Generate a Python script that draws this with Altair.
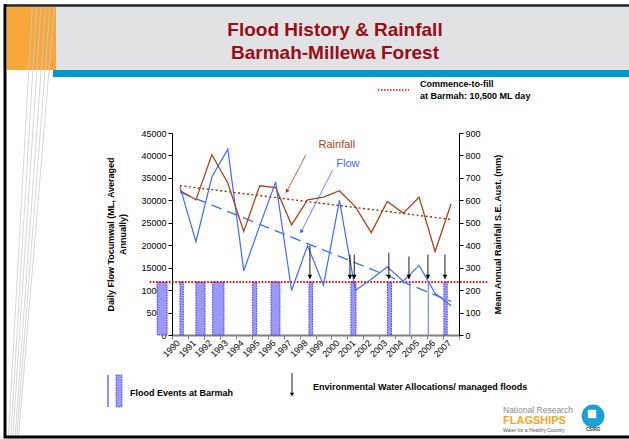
import altair as alt
import pandas as pd

# ---------------- data ----------------
years = list(range(1990, 2008))
flow = [33000, 20800, 35200, 41400, 14300, 24300, 34100, 9900, 19900, 11100,
        30000, 9900, 12400, 15200, 12000, 15500, 9300, 6500]
rain = [644, 602, 803, 677, 461, 665, 657, 491, 602, 614,
        643, 572, 456, 595, 543, 614, 372, 584]
trend_years = [1990, 2007]
flow_trend = [31800, 7500]
rain_trend = [665, 515]

flood_start = [1988.57, 1990.00, 1991.00, 1992.05, 1994.56, 1995.71,
               1998.09, 2000.72, 2003.02, 2004.42, 2005.57, 2006.55]
flood_end = [1989.19, 1990.21, 1991.57, 1992.76, 1994.81, 1996.27,
             1998.32, 2001.04, 2003.27, 2004.42, 2005.57, 2006.76]
flood_level = 11800
commence_span = [1988.1, 2009.3]

ewa_year = [1998.15, 2000.66, 2000.93, 2003.10, 2004.36, 2005.55, 2006.62]
ewa_top = [19900, 17900, 17900, 18300, 17500, 17900, 17900]
ewa_tip = 12500

x_ticks = [1989.5 + i for i in range(19)]
flow_ticks = list(range(0, 45001, 5000))
rain_ticks = list(range(0, 901, 100))

# annotation arrows (data coordinates)
rain_arrow = {"x0": 1997.90, "y0": 803, "x1": 1996.70, "y1": 640}
flow_arrow = {"x0": 1999.58, "y0": 36800, "x1": 1997.60, "y1": 23000}
rain_label = {"x": 1999.84, "y": 848}
flow_label = {"x": 2000.53, "y": 38150}

FONT = "Liberation Sans"
BLUE = "#3b6cff"
BROWN = "#a5461d"
BAR_FILL = "#9a9af6"
BAR_STROKE = "#3a3ae8"

df = pd.DataFrame({"year": years, "flow": flow, "rain": rain})
trend_df = pd.DataFrame({"year": trend_years, "flow": flow_trend, "rain": rain_trend})
flood_df = pd.DataFrame({"start": flood_start, "end": flood_end,
                         "level": [flood_level] * len(flood_start),
                         "base": [0] * len(flood_start)})
wide_df = flood_df[flood_df["end"] > flood_df["start"]]
thin_df = flood_df[flood_df["end"] <= flood_df["start"]]
comm_df = pd.DataFrame({"x0": [commence_span[0]], "x1": [commence_span[1]],
                        "level": [flood_level]})
ewa_df = pd.DataFrame({"year": ewa_year, "top": ewa_top,
                       "tip": [ewa_tip] * len(ewa_year)})
ewa_df["head"] = ewa_df["tip"] + 450
rain_arrow_df = pd.DataFrame([rain_arrow])
flow_arrow_df = pd.DataFrame([flow_arrow])
rain_label_df = pd.DataFrame([rain_label])
flow_label_df = pd.DataFrame([flow_label])
one = pd.DataFrame({"a": [0]})

# ---------------- scales & axes ----------------
xscale = alt.Scale(domain=[1989.5, 2007.5], nice=False, zero=False)
xaxis = alt.Axis(values=x_ticks, title=None, grid=False,
                 labelExpr="datum.value > 2007 ? '' : format(datum.value + 0.5, 'd')",
                 labelAngle=315, labelAlign="right", labelBaseline="middle",
                 labelOffset=6, labelPadding=2, labelFontSize=9, labelColor="black",
                 labelOverlap=False, labelFlush=False, labelBound=False,
                 tickSize=4, tickColor="#808080", domainColor="#808080", domainWidth=2)
fscale = alt.Scale(domain=[0, 45000], nice=False, zero=True)
faxis = alt.Axis(values=flow_ticks, orient="left", grid=False, format="d",
                 title=["Daily Flow Tocumwal (ML, Averaged", "Annually)"],
                 titleFontSize=9, titleFontWeight="bold", titleColor="black",
                 titleAngle=270, titleBaseline="middle", titleAlign="center",
                 titleX=-62, titleY=101, titleLineHeight=12,
                 labelFontSize=9, labelColor="black", labelPadding=2,
                 tickSize=4, tickColor="black", domainColor="black")
rscale = alt.Scale(domain=[0, 900], nice=False, zero=True)
raxis = alt.Axis(values=rain_ticks, orient="right", grid=False, format="d",
                 title="Mean Annual Rainfall S.E. Aust. (mm)",
                 titleFontSize=9, titleFontWeight="bold", titleColor="black",
                 titleAngle=270, titleBaseline="middle", titleAlign="center",
                 titleX=38, titleY=101,
                 labelFontSize=9, labelColor="black", labelPadding=2,
                 tickSize=4, tickColor="black", domainColor="black")


def X(f):
    return alt.X(f, type="quantitative", scale=xscale, axis=xaxis)


def YF(f):
    return alt.Y(f, type="quantitative", scale=fscale, axis=faxis)


def YR(f):
    return alt.Y(f, type="quantitative", scale=rscale, axis=raxis)


# ---------------- flow layer ----------------
bars = alt.Chart(wide_df).mark_rect(fill=BAR_FILL, stroke=BAR_STROKE, strokeWidth=1,
                                    strokeDash=[1.5, 1]).encode(
    x=X("start"), x2="end", y=YF("level"), y2="base")
thin = alt.Chart(thin_df).mark_rule(color="#5a6cf0", strokeWidth=1).encode(
    x=X("start"), y=YF("level"), y2="base")
comm = alt.Chart(comm_df).mark_rule(color="#ff0000", strokeWidth=2, strokeDash=[1.6, 1.6]).encode(
    x=X("x0"), x2="x1", y=YF("level"))
flow_line = alt.Chart(df).mark_line(color=BLUE, strokeWidth=1.2).encode(x=X("year"), y=YF("flow"))
flow_tr = alt.Chart(trend_df).mark_line(color=BLUE, strokeWidth=1.3, strokeDash=[11, 6]).encode(
    x=X("year"), y=YF("flow"))
ewa_rules = alt.Chart(ewa_df).mark_rule(color="black", strokeWidth=0.9).encode(
    x=X("year"), y=YF("top"), y2="tip")
ewa_heads = alt.Chart(ewa_df).mark_point(shape="triangle-down", filled=True, color="black",
                                         size=22, opacity=1).encode(x=X("year"), y=YF("head"))
fa_line = alt.Chart(flow_arrow_df).mark_rule(color=BLUE, strokeWidth=0.8).encode(
    x=X("x0"), x2="x1", y=YF("y0"), y2="y1")
fa_head = alt.Chart(flow_arrow_df).mark_point(shape="triangle-down", filled=True, color=BLUE,
                                              size=20, angle=27, opacity=1).encode(
    x=X("x1"), y=YF("y1"))
fl_text = alt.Chart(flow_label_df).mark_text(text="Flow", color=BLUE, fontSize=11, font=FONT).encode(
    x=X("x"), y=YF("y"))
flow_layer = alt.layer(bars, thin, comm, flow_tr, flow_line, ewa_rules, ewa_heads, fa_line, fa_head, fl_text)

# ---------------- rain layer ----------------
rain_line = alt.Chart(df).mark_line(color=BROWN, strokeWidth=1.3).encode(x=X("year"), y=YR("rain"))
rain_tr = alt.Chart(trend_df).mark_line(color="#9a3000", strokeWidth=1.4, strokeDash=[2, 2.5]).encode(
    x=X("year"), y=YR("rain"))
ra_line = alt.Chart(rain_arrow_df).mark_rule(color=BROWN, strokeWidth=0.8).encode(
    x=X("x0"), x2="x1", y=YR("y0"), y2="y1")
ra_head = alt.Chart(rain_arrow_df).mark_point(shape="triangle-down", filled=True, color=BROWN,
                                              size=20, angle=28, opacity=1).encode(
    x=X("x1"), y=YR("y1"))
rl_text = alt.Chart(rain_label_df).mark_text(text="Rainfall", color=BROWN, fontSize=11, font=FONT).encode(
    x=X("x"), y=YR("y"))
rain_layer = alt.layer(rain_tr, rain_line, ra_line, ra_head, rl_text)

# ---------------- decoration (pixel positions relative to plot origin 172,133) ----------------
OX, OY = 172, 133


def rect(x0, x1, y0, y1, color):
    return alt.Chart(one).mark_rect(color=color).encode(
        x=alt.value(x0 - OX), x2=alt.value(x1 - OX), y=alt.value(y0 - OY), y2=alt.value(y1 - OY))


def rule(x0, y0, x1, y1, color, w, dash=None):
    kw = dict(color=color, strokeWidth=w)
    if dash:
        kw["strokeDash"] = dash
    return alt.Chart(one).mark_rule(**kw).encode(
        x=alt.value(x0 - OX), x2=alt.value(x1 - OX), y=alt.value(y0 - OY), y2=alt.value(y1 - OY))


def text(s, x, y, size, color="black", weight="normal", align="left", baseline="middle"):
    return alt.Chart(one).mark_text(text=s, fontSize=size, color=color, fontWeight=weight,
                                    align=align, baseline=baseline, font=FONT).encode(
        x=alt.value(x - OX), y=alt.value(y - OY))


def point(x, y, size, color, shape="circle"):
    return alt.Chart(one).mark_point(shape=shape, filled=True, color=color, size=size, opacity=1).encode(
        x=alt.value(x - OX), y=alt.value(y - OY))


deco = [
    rect(55, 629, 7, 70, "#e1e2e4"),
    rect(7, 56, 7, 70, "#f8a73b"),
    rect(53, 629, 70, 77, "#0099cc"),
]
top_x = [32.3, 36.7, 41, 45.7, 50, 54.3]
bot_x = [8.3, 10.7, 12.7, 15, 16.7, 18.3]
for tx, bx in zip(top_x, bot_x):
    deco.append(rule(tx, 6, bx, 439, "#cccccc", 0.8))
deco += [
    rule(4, 5.5, 629, 5.5, "#222222", 2.5),
    rule(5, 4, 5, 438, "black", 3),
    rule(4, 437, 629, 437, "black", 3),
    text("Flood History & Rainfall", 335, 36, 19, "#9b0d16", "bold", "center", "alphabetic"),
    text("Barmah-Millewa Forest", 335, 58.5, 19, "#9b0d16", "bold", "center", "alphabetic"),
    rule(378, 90, 409, 90, "#ff0000", 1.5, [1.5, 1.5]),
    text("Commence-to-fill", 420, 84, 9, weight="bold"),
    text("at Barmah: 10,500 ML day", 420, 96, 9, weight="bold"),
    rule(108, 375, 108, 407, "#6f6ff2", 1.5),
    alt.Chart(one).mark_rect(fill=BAR_FILL, stroke=BAR_STROKE, strokeWidth=0.8, strokeDash=[1.5, 1]).encode(
        x=alt.value(116 - OX), x2=alt.value(122 - OX), y=alt.value(375 - OY), y2=alt.value(407 - OY)),
    text("Flood Events at Barmah", 130, 393, 9, weight="bold"),
    rule(292, 373, 292, 394, "black", 0.9),
    point(292, 394.5, 18, "black", "triangle-down"),
    text("Environmental Water Allocations/ managed floods", 313, 387, 9, weight="bold"),
    text("National Research", 503, 410, 8.5, "#8c8c8c"),
    text("FLAGSHIPS", 503, 421, 11, "#f5a623", "bold"),
    text("Water for a Healthy Country", 503, 429.5, 5, "#555555"),
    point(593, 416, 520, "#1a9fd6"),
    point(592, 414, 70, "white", "square"),
    text("CSIRO", 593, 430, 4.5, "#333333", "bold", "center"),
]

chart = alt.layer(flow_layer, rain_layer, *deco).resolve_scale(y="independent").properties(
    width=287, height=202,
    padding={"left": 172, "top": 133, "right": 170, "bottom": 104},
    autosize=alt.AutoSizeParams(type="none"),
    background="white",
).configure(font=FONT).configure_view(strokeWidth=0)

chart.save("out.html", embed_options={"renderer": "svg", "actions": False})
